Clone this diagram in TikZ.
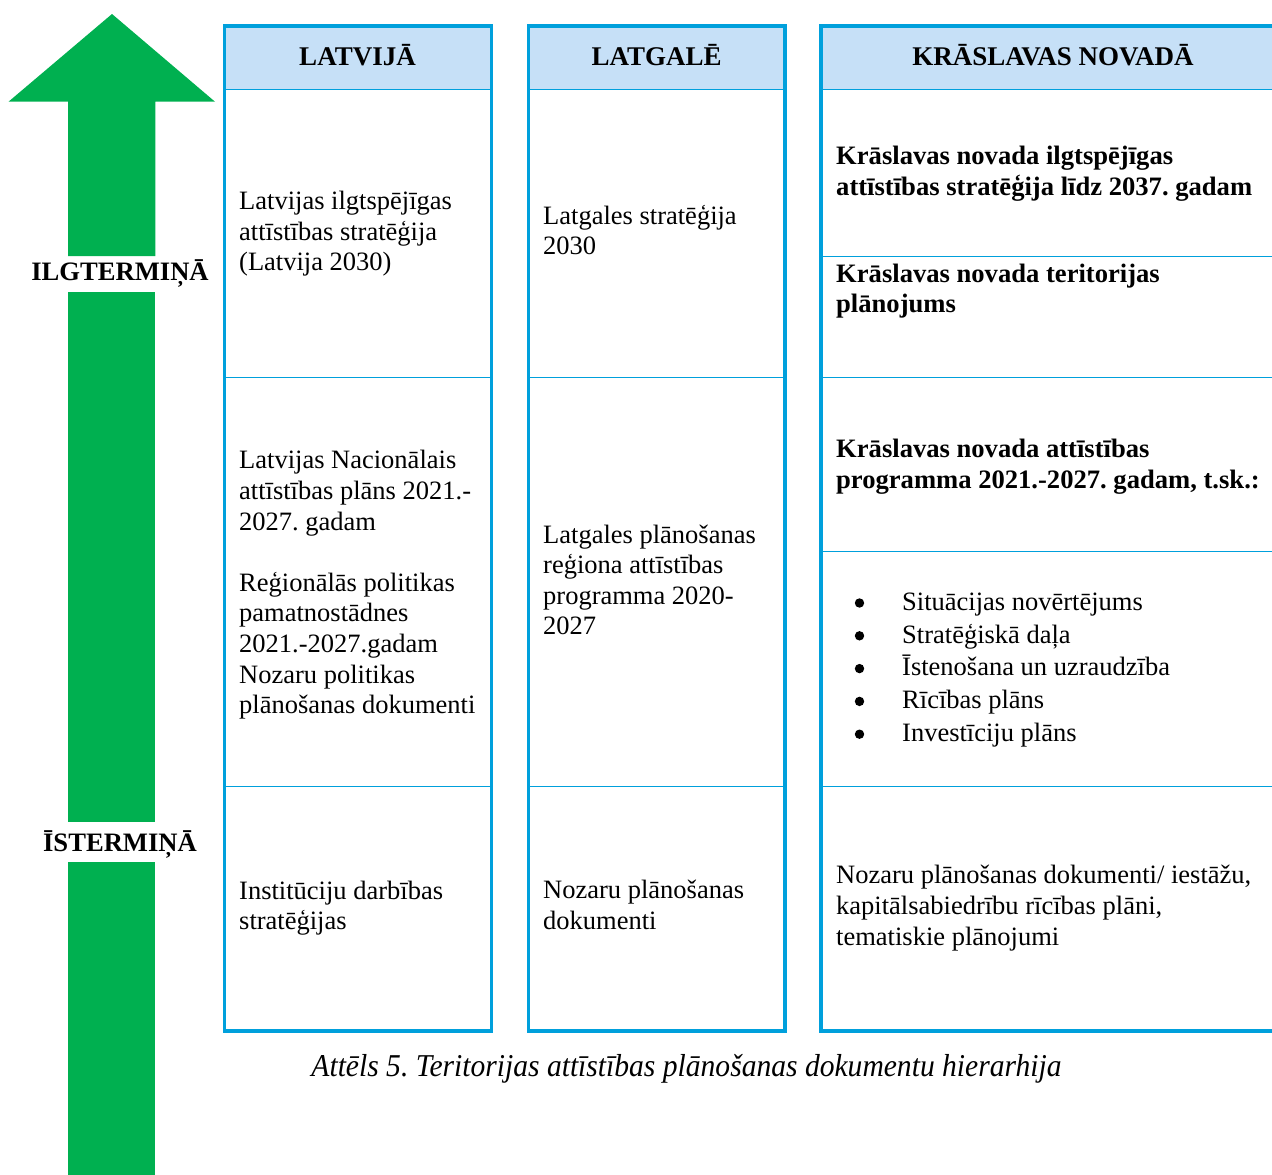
\documentclass[tikz,border=0pt]{standalone}
\usepackage{fontspec}
\setmainfont{Liberation Serif}
\frenchspacing
\definecolor{cblue}{RGB}{0,160,220}
\definecolor{hdrfill}{RGB}{198,224,247}
\definecolor{agreen}{RGB}{0,176,80}
\begin{document}
\begin{tikzpicture}[x=1pt,y=-1pt,
  tx/.style={font=\fontsize{26.5}{30.6}\selectfont, align=left, anchor=west, inner sep=0pt},
  bx/.style={tx, font=\fontsize{26.6}{30.6}\selectfont\bfseries},
  hd/.style={font=\fontsize{27}{30}\selectfont\bfseries, anchor=base, inner sep=0pt},
  lbl/.style={font=\fontsize{26.6}{30}\selectfont\bfseries, anchor=base, inner sep=0pt},
  outerline/.style={draw=cblue, line width=3.5pt},
  innerline/.style={draw=cblue, line width=1.3pt},
  bulletdot/.style={fill=black}]
\useasboundingbox (0,0) rectangle (1272,1175);

% green arrow
\fill[agreen] (112,14) -- (215,101.7) -- (155.3,101.7) -- (155.3,256) -- (68,256) -- (68,101.7) -- (8.5,101.7) -- cycle;
\fill[agreen] (68,292) rectangle (155.3,822);
\fill[agreen] (68,862) rectangle (155.3,1176);
\node[lbl] (ilg) at (120,280.7) {ILGTERMIŅĀ};
\node[lbl] (ist) at (120,851) {ĪSTERMIŅĀ};

% column 1
\fill[hdrfill] (224,26) rectangle (491,89.5);
\draw[innerline] (224,89.5) -- (491,89.5);
\draw[innerline] (224,377.5) -- (491,377.5);
\draw[innerline] (224,786.5) -- (491,786.5);
\draw[outerline] (224.3,26) rectangle (491.5,1031);

% column 2
\fill[hdrfill] (528,26) rectangle (785,89.5);
\draw[innerline] (528,89.5) -- (785,89.5);
\draw[innerline] (528,377.5) -- (785,377.5);
\draw[innerline] (528,786.5) -- (785,786.5);
\draw[outerline] (528.3,26) rectangle (785,1031);

% column 3
\fill[hdrfill] (821,26) rectangle (1290,89.5);
\draw[innerline] (821,89.5) -- (1290,89.5);
\draw[innerline] (821,256.5) -- (1290,256.5);
\draw[innerline] (821,377.5) -- (1290,377.5);
\draw[innerline] (821,551.5) -- (1290,551.5);
\draw[innerline] (821,786.5) -- (1290,786.5);
\draw[outerline] (1295,26) -- (821,26) -- (821,1031) -- (1295,1031);

% headers
\node[hd] (h1) at (357.5,65.7) {LATVIJĀ};
\node[hd] (h2) at (656.7,65.7) {LATGALĒ};
\node[hd] (h3) at (1053,65.7) {KRĀSLAVAS NOVADĀ};

% column 1 texts
\node[tx] (c1a) at (239,234) {Latvijas ilgtspējīgas\\attīstības stratēģija\\(Latvija 2030)};
\node[tx] (c1b) at (239,585) {Latvijas Nacionālais\\attīstības plāns 2021.-\\2027. gadam\\[30.6pt]Reģionālās politikas\\pamatnostādnes\\2021.-2027.gadam\\Nozaru politikas\\plānošanas dokumenti};
\node[tx] (c1c) at (239,908) {Institūciju darbības\\stratēģijas};

% column 2 texts
\node[tx] (c2a) at (543,230) {Latgales stratēģija\\2030};
\node[tx] (c2b) at (543,580) {Latgales plānošanas\\reģiona attīstības\\programma 2020-\\2027};
\node[tx] (c2c) at (543,905) {Nozaru plānošanas\\dokumenti};

% column 3 texts
\node[bx] (c3a) at (836,174) {Krāslavas novada ilgtspējīgas\\attīstības stratēģija līdz 2037. gadam};
\node[bx] (c3b) at (836,291) {Krāslavas novada teritorijas\\plānojums};
\node[bx] (c3c) at (836,467) {Krāslavas novada attīstības\\programma 2021.-2027. gadam, t.sk.:};
\node[tx, font=\fontsize{26.5}{32.8}\selectfont] (c3d) at (902,670) {%
Situācijas novērtējums\\
Stratēģiskā daļa\\
Īstenošana un uzraudzība\\
Rīcības plāns\\
Investīciju plāns};
\foreach \yy in {603,635.8,668.6,701.4,734.2}
  \fill[bulletdot] (859.5,\yy) circle[radius=4.7];
\node[tx] (c3e) at (836,908) {Nozaru plānošanas dokumenti/ iestāžu,\\kapitālsabiedrību rīcības plāni,\\tematiskie plānojumi};

% caption
\node[font=\fontsize{31.8}{34}\selectfont\itshape, anchor=base, inner sep=0pt, xscale=0.93] (cap) at (686.5,1076) {Attēls 5. Teritorijas attīstības plānošanas dokumentu hierarhija};
\end{tikzpicture}
\end{document}
